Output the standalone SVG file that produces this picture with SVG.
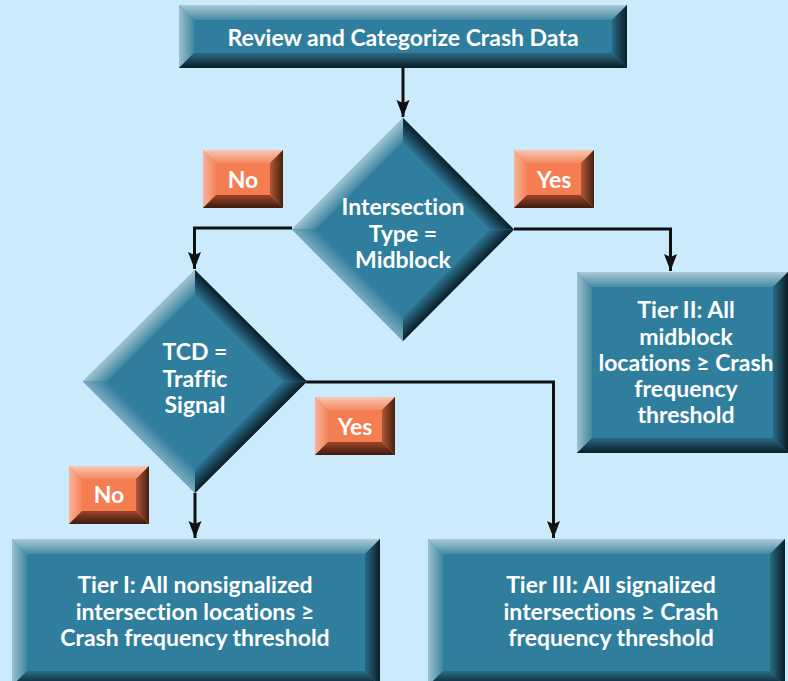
<svg xmlns="http://www.w3.org/2000/svg" width="788" height="681" viewBox="0 0 788 681">
<defs>
<style>
.face{fill:#307e9e}
.bt{fill:url(#gT)}.bl{fill:url(#gL)}.bb{fill:url(#gB)}.br{fill:url(#gR)}
.lface{fill:#f47e52}
.lt{fill:url(#lT)}.ll{fill:url(#lL)}.lb{fill:url(#lB)}.lr{fill:url(#lR)}
.dtl{fill:url(#dTL)}.dbl{fill:url(#dBL)}.dtr{fill:url(#dTR)}.dbr{fill:url(#dBR)}
.txt{font-family:Lato,"Open Sans","DejaVu Sans",sans-serif;font-weight:bold;font-size:23px;fill:#ffffff;text-anchor:middle;font-variant-ligatures:none}
.conn{fill:none;stroke:#111111;stroke-width:3}
</style>
<linearGradient id="gT" x1="0" y1="0" x2="0" y2="1"><stop offset="0" stop-color="#aacad6"/><stop offset="1" stop-color="#458aa6"/></linearGradient>
<linearGradient id="gL" x1="0" y1="0" x2="1" y2="0"><stop offset="0" stop-color="#9cc0ce"/><stop offset="1" stop-color="#42889f"/></linearGradient>
<linearGradient id="gB" x1="0" y1="0" x2="0" y2="1"><stop offset="0" stop-color="#2a6984"/><stop offset="1" stop-color="#0a1e26"/></linearGradient>
<linearGradient id="gR" x1="0" y1="0" x2="1" y2="0"><stop offset="0" stop-color="#2a6984"/><stop offset="1" stop-color="#0a1e26"/></linearGradient>
<linearGradient id="lT" x1="0" y1="0" x2="0" y2="1"><stop offset="0" stop-color="#f9c6b2"/><stop offset="1" stop-color="#f48a62"/></linearGradient>
<linearGradient id="lL" x1="0" y1="0" x2="1" y2="0"><stop offset="0" stop-color="#f8b49a"/><stop offset="1" stop-color="#f48358"/></linearGradient>
<linearGradient id="lB" x1="0" y1="0" x2="0" y2="1"><stop offset="0" stop-color="#9a4529"/><stop offset="1" stop-color="#3d1a10"/></linearGradient>
<linearGradient id="lR" x1="0" y1="0" x2="1" y2="0"><stop offset="0" stop-color="#b2583a"/><stop offset="1" stop-color="#43200f"/></linearGradient>
<linearGradient id="dTL" x1="0.5" y1="0.5" x2="0.607" y2="0.607"><stop offset="0" stop-color="#9fc3d0"/><stop offset="1" stop-color="#3f86a3"/></linearGradient>
<linearGradient id="dBL" x1="0.5" y1="0.5" x2="0.607" y2="0.393"><stop offset="0" stop-color="#7aabbf"/><stop offset="1" stop-color="#35809f"/></linearGradient>
<linearGradient id="dTR" x1="0.5" y1="0.5" x2="0.393" y2="0.607"><stop offset="0" stop-color="#0a1e26"/><stop offset="1" stop-color="#2c7190"/></linearGradient>
<linearGradient id="dBR" x1="0.5" y1="0.5" x2="0.393" y2="0.393"><stop offset="0" stop-color="#0a1e26"/><stop offset="1" stop-color="#2c7190"/></linearGradient>
<marker id="arr" markerUnits="userSpaceOnUse" markerWidth="20" markerHeight="16" viewBox="0 -8 18 16" refX="17" refY="0" orient="auto">
<path d="M0,-6.5 L17,0 L0,6.5 L3,0 Z" fill="#111111"/>
</marker>
</defs>
<rect x="0" y="0" width="788" height="681" fill="#cbeafb"/>

<g id="connectors">
<path class="conn" d="M403,68 V117" marker-end="url(#arr)"/>
<path class="conn" d="M292,228 H194.5 V269" marker-end="url(#arr)"/>
<path class="conn" d="M514,229 H670.5 V271" marker-end="url(#arr)"/>
<path class="conn" d="M306,382 H553.5 V538" marker-end="url(#arr)"/>
<path class="conn" d="M195,493 V538" marker-end="url(#arr)"/>
</g>

<g id="start">
<rect class="face" x="179" y="5" width="448" height="63"/>
<polygon class="bt" points="179,5 627,5 612,20 194,20"/>
<polygon class="bl" points="179,5 194,20 194,53 179,68"/>
<polygon class="bb" points="179,68 194,53 612,53 627,68"/>
<polygon class="br" points="627,5 612,20 612,53 627,68"/>
<text class="txt" x="403" y="46">Review and Categorize Crash Data</text>
</g>

<g id="decision1">
<polygon class="face" points="403,118 514,229.5 403,341 292,229.5"/>
<polygon class="dtl" points="403,118 403,142 316,229.5 292,229.5"/>
<polygon class="dbl" points="292,229.5 316,229.5 403,317 403,341"/>
<polygon class="dtr" points="403,118 514,229.5 490,229.5 403,142"/>
<polygon class="dbr" points="514,229.5 403,341 403,317 490,229.5"/>
<text class="txt" x="403" y="215">Intersection</text>
<text class="txt" x="403" y="242">Type =</text>
<text class="txt" x="403" y="268">Midblock</text>
</g>

<g id="decision2">
<polygon class="face" points="195,270 307,381.5 195,493 83,381.5"/>
<polygon class="dtl" points="195,270 195,294 107,381.5 83,381.5"/>
<polygon class="dbl" points="83,381.5 107,381.5 195,469 195,493"/>
<polygon class="dtr" points="195,270 307,381.5 283,381.5 195,294"/>
<polygon class="dbr" points="307,381.5 195,493 195,469 283,381.5"/>
<text class="txt" x="195" y="360">TCD =</text>
<text class="txt" x="195" y="387">Traffic</text>
<text class="txt" x="195" y="413">Signal</text>
</g>

<g id="tier2">
<rect class="face" x="577" y="272" width="211" height="181"/>
<polygon class="bt" points="577,272 788,272 773,287 592,287"/>
<polygon class="bl" points="577,272 592,287 592,438 577,453"/>
<polygon class="bb" points="577,453 592,438 773,438 788,453"/>
<polygon class="br" points="788,272 773,287 773,438 788,453"/>
<text class="txt" x="686" y="318">Tier II: All</text>
<text class="txt" x="686" y="345">midblock</text>
<text class="txt" x="686" y="371">locations ≥ Crash</text>
<text class="txt" x="686" y="397">frequency</text>
<text class="txt" x="686" y="423">threshold</text>
</g>

<g id="tier1">
<rect class="face" x="12" y="539" width="368" height="147"/>
<polygon class="bt" points="12,539 380,539 365,554 27,554"/>
<polygon class="bl" points="12,539 27,554 27,671 12,686"/>
<polygon class="bb" points="12,686 27,671 365,671 380,686"/>
<polygon class="br" points="380,539 365,554 365,671 380,686"/>
<text class="txt" x="195" y="593">Tier I: All nonsignalized</text>
<text class="txt" x="195" y="620">intersection locations ≥</text>
<text class="txt" x="195" y="646">Crash frequency threshold</text>
</g>

<g id="tier3">
<rect class="face" x="428" y="539" width="357" height="147"/>
<polygon class="bt" points="428,539 785,539 770,554 443,554"/>
<polygon class="bl" points="428,539 443,554 443,671 428,686"/>
<polygon class="bb" points="428,686 443,671 770,671 785,686"/>
<polygon class="br" points="785,539 770,554 770,671 785,686"/>
<text class="txt" x="611" y="593">Tier III: All signalized</text>
<text class="txt" x="611" y="620">intersections ≥ Crash</text>
<text class="txt" x="611" y="646">frequency threshold</text>
</g>

<g id="label-no-1">
<rect class="lface" x="203" y="150" width="80" height="58"/>
<polygon class="lt" points="203,150 283,150 270,163 216,163"/>
<polygon class="ll" points="203,150 216,163 216,195 203,208"/>
<polygon class="lb" points="203,208 216,195 270,195 283,208"/>
<polygon class="lr" points="283,150 270,163 270,195 283,208"/>
<text class="txt" x="243" y="188">No</text>
</g>

<g id="label-yes-1">
<rect class="lface" x="514" y="150" width="80" height="58"/>
<polygon class="lt" points="514,150 594,150 581,163 527,163"/>
<polygon class="ll" points="514,150 527,163 527,195 514,208"/>
<polygon class="lb" points="514,208 527,195 581,195 594,208"/>
<polygon class="lr" points="594,150 581,163 581,195 594,208"/>
<text class="txt" x="554" y="188">Yes</text>
</g>

<g id="label-yes-2">
<rect class="lface" x="315" y="397" width="80" height="58"/>
<polygon class="lt" points="315,397 395,397 382,410 328,410"/>
<polygon class="ll" points="315,397 328,410 328,442 315,455"/>
<polygon class="lb" points="315,455 328,442 382,442 395,455"/>
<polygon class="lr" points="395,397 382,410 382,442 395,455"/>
<text class="txt" x="355" y="435">Yes</text>
</g>

<g id="label-no-2">
<rect class="lface" x="69" y="466" width="80" height="58"/>
<polygon class="lt" points="69,466 149,466 136,479 82,479"/>
<polygon class="ll" points="69,466 82,479 82,511 69,524"/>
<polygon class="lb" points="69,524 82,511 136,511 149,524"/>
<polygon class="lr" points="149,466 136,479 136,511 149,524"/>
<text class="txt" x="109" y="503">No</text>
</g>
</svg>
